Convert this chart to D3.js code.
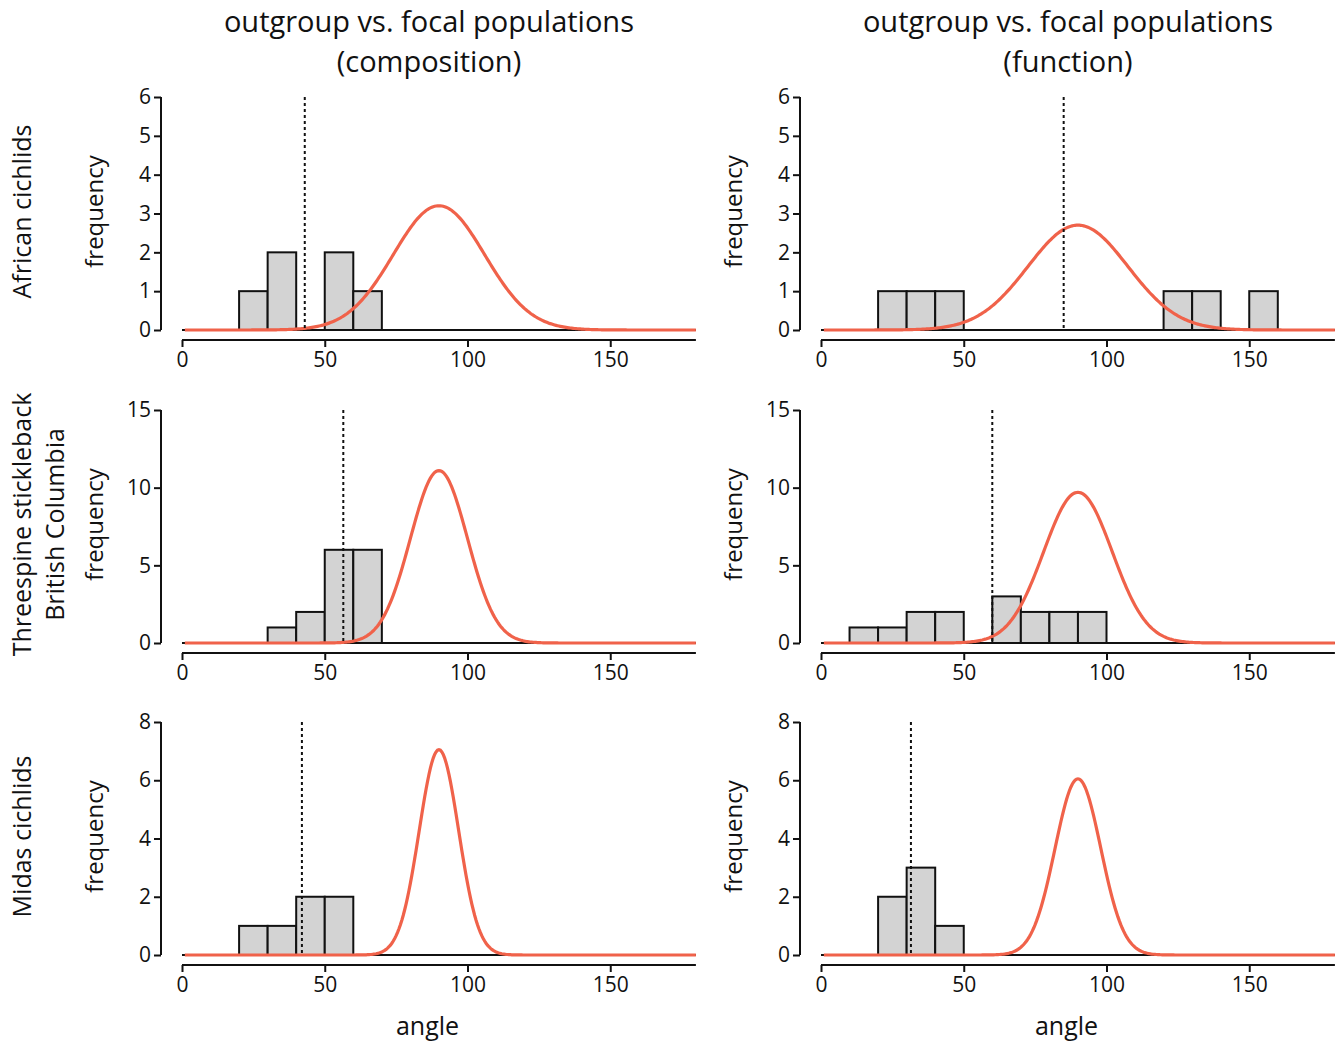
<!DOCTYPE html>
<meta charset="utf-8" />
<style>
  body { margin: 0; background: #fff; }
  text { font-family: "Open Sans", "Noto Sans", sans-serif; fill: #111; }
  .bar { fill: #d3d3d3; stroke: #111; stroke-width: 2px; }
  .curve { fill: none; stroke: #f0624a; stroke-width: 3.2px; }
  .obs { stroke: #111; stroke-width: 2px; stroke-dasharray: 3,3; }
  .base { stroke: #111; stroke-width: 2px; }
  .axis path, .axis line { stroke: #111; stroke-width: 2px; }
  .axis text { font-size: 21px; fill: #111; }
</style>
<body>
<script src="https://cdn.jsdelivr.net/npm/d3@7"></script>
<script>
// column titles and row labels
var colTitles = [['outgroup vs. focal populations', '(composition)'],
                 ['outgroup vs. focal populations', '(function)']];
var rowLabels = [['African cichlids'],
                 ['Threespine stickleback', 'British Columbia'],
                 ['Midas cichlids']];

var xTicks = [0, 50, 100, 150];
var yMax = [6, 15, 8];
var yTicks = [[0, 1, 2, 3, 4, 5, 6], [0, 5, 10, 15], [0, 2, 4, 6, 8]];

// histogram bins (start of 10-degree bin) and counts, per panel (row, col)
var binStarts = [
  [[20, 30, 50, 60], [20, 30, 40, 120, 130, 150]],
  [[30, 40, 50, 60], [10, 20, 30, 40, 60, 70, 80, 90]],
  [[20, 30, 40, 50], [20, 30, 40]]
];
var binCounts = [
  [[1, 2, 2, 1], [1, 1, 1, 1, 1, 1]],
  [[1, 2, 6, 6], [1, 1, 2, 2, 3, 2, 2, 2]],
  [[1, 1, 2, 2], [2, 3, 1]]
];
var binWidth = 10;

// observed angle (dotted line)
var observed = [[43, 85], [56.5, 60], [42, 31.5]];

// null expectation: normal curve around 90 degrees
var nullMean = 90;
var nullPeak = [[3.2, 2.7], [11.1, 9.7], [7.05, 6.05]];
var nullSd = [[16, 17.5], [10, 12], [6.9, 8]];

var W = 1343, H = 1042;
var colX0 = [182, 821];     // pixel of angle 0
var colYaxis = [161, 800];  // y axis position
var pxPerUnit = 2.855;
var rowTop = [97, 410, 722];
var plotH = 233;

var svg = d3.select('body').append('svg')
  .attr('width', W).attr('height', H);

// column titles
colTitles.forEach(function(t, c) {
  var cx = colX0[c] + 90 * pxPerUnit - 10;
  t.forEach(function(line, i) {
    svg.append('text')
      .attr('x', cx).attr('y', 32 + i * 40)
      .attr('text-anchor', 'middle')
      .style('font-size', '29px')
      .text(line);
  });
});

// row labels
rowLabels.forEach(function(lines, r) {
  var cy = rowTop[r] + plotH / 2 - 2;
  lines.forEach(function(line, i) {
    svg.append('text')
      .attr('transform', 'translate(' + (31 + i * 33) + ',' + cy + ') rotate(-90)')
      .attr('text-anchor', 'middle')
      .style('font-size', '25px')
      .text(line);
  });
});

for (var r = 0; r < 3; r++) {
  for (var c = 0; c < 2; c++) {
    drawPanel(r, c);
  }
}

function drawPanel(r, c) {
  var x = d3.scaleLinear().domain([0, 180])
    .range([colX0[c], colX0[c] + 180 * pxPerUnit]);
  var y = d3.scaleLinear().domain([0, yMax[r]])
    .range([rowTop[r] + plotH, rowTop[r]]);
  var g = svg.append('g');

  // y axis
  g.append('g')
    .attr('class', 'axis')
    .attr('transform', 'translate(' + colYaxis[c] + ',0)')
    .call(d3.axisLeft(y).tickValues(yTicks[r]).tickFormat(d3.format('d'))
      .tickSize(7).tickPadding(3).tickSizeOuter(0))
    .call(function(a) { a.select('.domain').attr('d', 'M0,' + y(yMax[r]) + 'V' + y(0)); });

  // x axis, a little below the zero line
  g.append('g')
    .attr('class', 'axis')
    .attr('transform', 'translate(0,' + (y(0) + 10) + ')')
    .call(d3.axisBottom(x).tickValues(xTicks).tickFormat(d3.format('d'))
      .tickSize(7).tickPadding(5).tickSizeOuter(0))
    .call(function(a) { a.select('.domain').attr('d', 'M' + x(0) + ',0H' + x(180)); });

  // y label
  g.append('text')
    .attr('transform', 'translate(' + (colYaxis[c] - 58) + ',' + (rowTop[r] + plotH / 2 - 2) + ') rotate(-90)')
    .attr('text-anchor', 'middle')
    .style('font-size', '24px')
    .text('frequency');

  // x label on bottom row
  if (r === 2) {
    g.append('text')
      .attr('x', x(86)).attr('y', 1035)
      .attr('text-anchor', 'middle')
      .style('font-size', '25px')
      .text('angle');
  }

  // baseline
  g.append('line')
    .attr('class', 'base')
    .attr('x1', x(0)).attr('x2', x(180))
    .attr('y1', y(0)).attr('y2', y(0));

  // histogram bars
  var bins = binStarts[r][c].map(function(s, i) {
    return { x0: s, x1: s + binWidth, n: binCounts[r][c][i] };
  });
  g.selectAll('rect.bar').data(bins).enter().append('rect')
    .attr('class', 'bar')
    .attr('x', function(d) { return x(d.x0); })
    .attr('width', function(d) { return x(d.x1) - x(d.x0); })
    .attr('y', function(d) { return y(d.n); })
    .attr('height', function(d) { return y(0) - y(d.n); });

  // normal curve
  var peak = nullPeak[r][c], sd = nullSd[r][c];
  var pts = d3.range(1, 180.25, 0.5).map(function(a) {
    return [a, peak * Math.exp(-Math.pow(a - nullMean, 2) / (2 * sd * sd))];
  });
  g.append('path')
    .datum(pts)
    .attr('class', 'curve')
    .attr('d', d3.line().x(function(d) { return x(d[0]); }).y(function(d) { return y(d[1]); }));

  // observed angle
  g.append('line')
    .attr('class', 'obs')
    .attr('x1', x(observed[r][c])).attr('x2', x(observed[r][c]))
    .attr('y1', y(yMax[r])).attr('y2', y(0));
}
</script>
</body>
